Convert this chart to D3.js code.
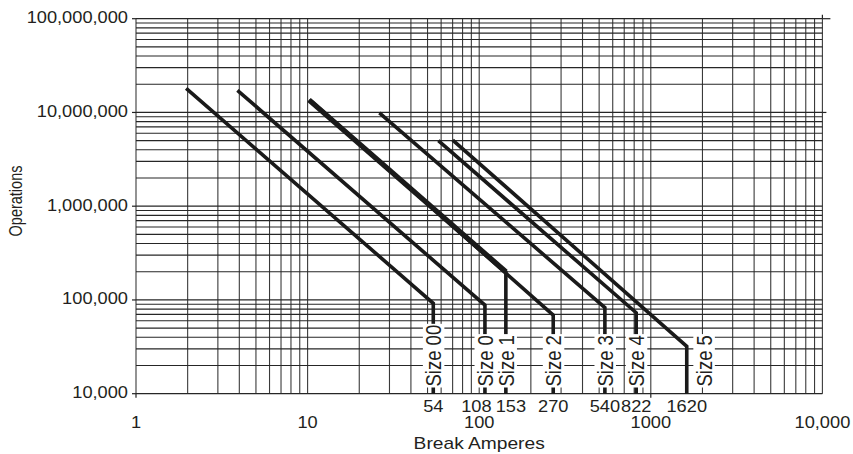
<!DOCTYPE html>
<html><head><meta charset="utf-8">
<script src="https://cdn.jsdelivr.net/npm/d3@7"></script>
<style>
html,body{margin:0;padding:0;background:#fff}
svg{display:block}
text{font-family:"Liberation Sans",Arial,Helvetica,sans-serif;fill:#231f20}
</style>
</head><body>
<svg id="c" width="853" height="454"></svg>
<script>
// ---- data ----
const sizes = ["Size 00","Size 0","Size 1","Size 2","Size 3","Size 4","Size 5"];
const startAmps = [1.96, 3.9, 10.2, 10.6, 26.2, 57.8, 70.1];
const startOps = [18100000, 17200000, 13600000, 13000000, 9900000, 5000000, 5080000];
const endAmps = [54, 108, 143, 270, 540, 822, 1620];
const endOps = [92000, 88000, 200000, 69000, 83000, 73000, 32000];
const ratedAmps = [54, 108, 153, 270, 540, 822, 1620];
const xTickValues = [1, 10, 100, 1000, 10000];
const xTickLabels = ["1", "10", "100", "1000", "10,000"];
const yTickValues = [1e4, 1e5, 1e6, 1e7, 1e8];
const yTickLabels = ["10,000", "100,000", "1,000,000", "10,000,000", "100,000,000"];
const xTitle = "Break Amperes";
const yTitle = "Operations";

// ---- layout ----
const L = 136, R = 822.4, T = 18.7, B = 393.7;
const SX = 1.2;   // horizontal glyph stretch seen in the reference
const SXN = 1.14; // stretch for numbers
const svg = d3.select("#c");
const x = d3.scaleLog().domain([1, 10000]).range([L, R]);
const y = d3.scaleLog().domain([1e4, 1e8]).range([B, T]);

// grid
const grid = svg.append("g");
grid.selectAll("line.v").data(x.ticks()).join("line")
  .attr("x1", d => x(d)).attr("x2", d => x(d)).attr("y1", T).attr("y2", B)
  .attr("stroke", "#3a3a3a").attr("stroke-width", 1.1);
grid.selectAll("line.h").data(y.ticks()).join("line")
  .attr("y1", d => y(d)).attr("y2", d => y(d)).attr("x1", L).attr("x2", R)
  .attr("stroke", "#262626").attr("stroke-width", 1.2);

// ticks
const tk = svg.append("g").attr("stroke", "#222").attr("stroke-width", 1.2);
yTickValues.forEach(v => tk.append("line").attr("x1", L - 4).attr("x2", L).attr("y1", y(v)).attr("y2", y(v)));
tk.append("line").attr("x1", R).attr("x2", R + 8).attr("y1", y(1e8)).attr("y2", y(1e8));
tk.append("line").attr("x1", R).attr("x2", R + 4).attr("y1", y(1e7)).attr("y2", y(1e7));
tk.append("line").attr("x1", R).attr("x2", R).attr("y1", T - 4).attr("y2", T);
[1, 1000].forEach(v => tk.append("line").attr("x1", x(v)).attr("x2", x(v)).attr("y1", B).attr("y2", B + 4));

// text helper
function txt(g, px, py, s, size, anchor, sx, rot) {
  return g.append("text")
    .attr("transform", `translate(${px},${py}) scale(${sx},1)` + (rot ? " rotate(-90)" : ""))
    .attr("text-anchor", anchor).style("font-size", size + "px").text(s);
}

const labels = svg.append("g");
yTickValues.forEach((v, i) => txt(labels, 128, y(v) + 4.5, yTickLabels[i], 16, "end", SXN));
xTickValues.forEach((v, i) => txt(labels, x(v), 428.3, xTickLabels[i], 16, "middle", SXN));
ratedAmps.forEach((v, i) => txt(labels, x(v) + (i === 1 ? -8.5 : 0), 411.5, String(v), 16, "middle", SXN));
txt(labels, (L + R) / 2, 449.3, xTitle, 16, "middle", SX);
txt(labels, 22, 201, yTitle, 14.5, "middle", 1.3, true);

// data lines
const lines = svg.append("g").attr("fill", "none").attr("stroke", "#1a1a1a")
  .attr("stroke-linejoin", "miter");
sizes.forEach((s, i) => {
  lines.append("path").attr("stroke-width", 3.6).attr("d",
    `M${x(startAmps[i])},${y(startOps[i])}L${x(endAmps[i])},${y(endOps[i])}L${x(endAmps[i])},${B}`);
});
// the Size 1 / Size 2 overlap reads as one heavier band
lines.append("path").attr("stroke-width", 5.2).attr("d",
  `M${x(startAmps[2])},${y(startOps[2])}L${x(endAmps[2])},${y(endOps[2])}`);

// size labels with white background
const sl = svg.append("g");
sizes.forEach((s, i) => {
  const lx = x(endAmps[i]) + (i === sizes.length - 1 ? 17 : 0);
  const g = sl.append("g").attr("transform", `translate(${lx},386.5) scale(${SX},1) rotate(-90)`);
  const fs = 18.5;
  const t = g.append("text").attr("x", 0).attr("y", fs * 0.716 / 2)
    .attr("text-anchor", "start").style("font-size", fs + "px").text(s);
  const bb = t.node().getBBox();
  g.insert("rect", "text").attr("x", bb.x - 1).attr("y", bb.y + 1)
    .attr("width", bb.width + 2).attr("height", bb.height - 2).attr("fill", "#fff");
});
</script>
</body></html>
